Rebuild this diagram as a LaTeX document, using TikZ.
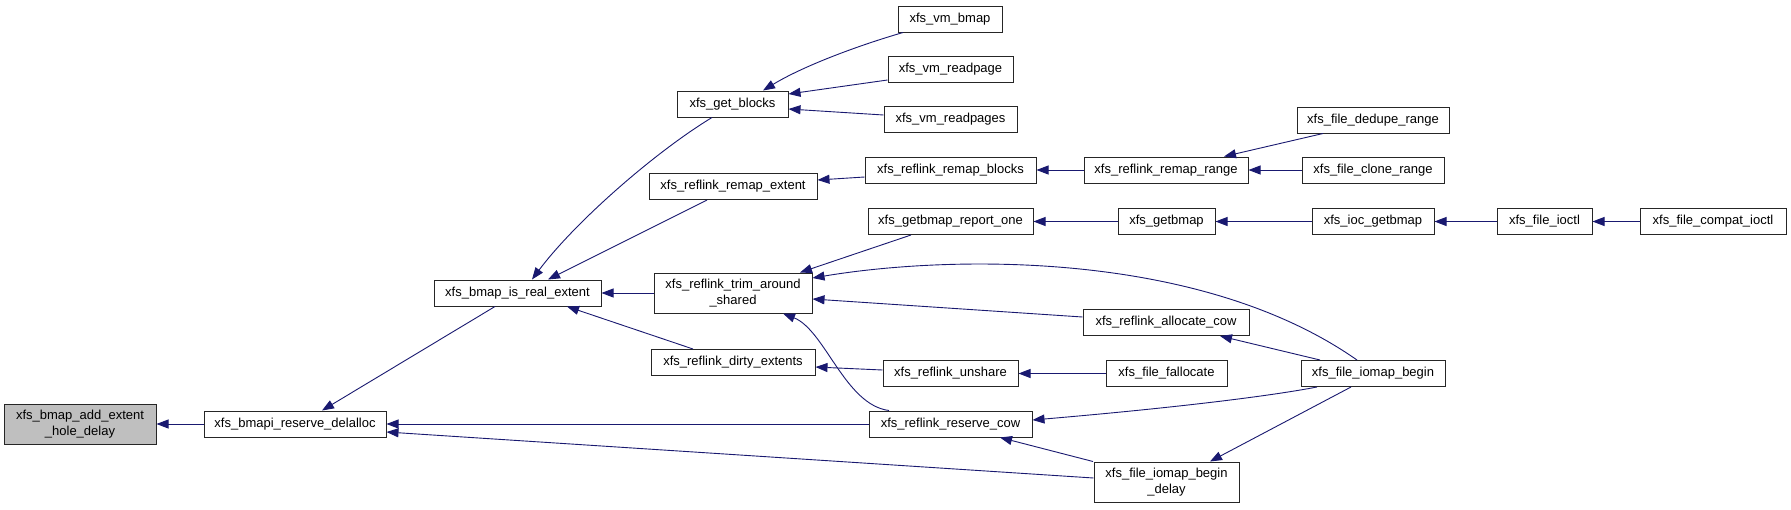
\documentclass[tikz,border=0pt]{standalone}
\usepackage{fontspec}
\setmainfont{Liberation Sans}
\usetikzlibrary{arrows.meta}
\definecolor{edgeblue}{HTML}{191970}
\definecolor{rootgray}{HTML}{BFBFBF}
\tikzset{
  fn/.style={draw=black!85, line width=1pt, rectangle, inner sep=0pt, minimum height=26pt,
    align=center, font=\fontsize{13}{15.5}\selectfont, fill=white},
  fn2/.style={fn, minimum height=40pt},
  edge/.style={draw=edgeblue, line width=0.9pt, {Triangle[length=12pt,width=9pt]}-},
}
\begin{document}
\begin{tikzpicture}[x=1pt,y=-1pt]
\useasboundingbox[fill=white] (0,0) rectangle (1791,509);
% nodes
\node[fn2, fill=rootgray, minimum width=152pt] (add) at (80,424) {xfs\_bmap\_add\_extent\\\_hole\_delay};
\node[fn, minimum width=182pt] (rd) at (295,424) {xfs\_bmapi\_reserve\_delalloc};
\node[fn, minimum width=167pt] (ire) at (517.5,293) {xfs\_bmap\_is\_real\_extent};
\node[fn, minimum width=111pt] (gb) at (732.5,104) {xfs\_get\_blocks};
\node[fn, minimum width=104pt] (vmb) at (950,19) {xfs\_vm\_bmap};
\node[fn, minimum width=125pt] (vrp) at (950.5,69.5) {xfs\_vm\_readpage};
\node[fn, minimum width=133pt] (vrps) at (950.5,119.5) {xfs\_vm\_readpages};
\node[fn, minimum width=168pt] (rext) at (733,186.5) {xfs\_reflink\_remap\_extent};
\node[fn, minimum width=171pt] (rblk) at (950.5,170) {xfs\_reflink\_remap\_blocks};
\node[fn, minimum width=164pt] (rrng) at (1166,170) {xfs\_reflink\_remap\_range};
\node[fn, minimum width=152pt] (dedup) at (1373,120) {xfs\_file\_dedupe\_range};
\node[fn, minimum width=142pt] (clone) at (1373,170) {xfs\_file\_clone\_range};
\node[fn, minimum width=165pt] (gro) at (950.5,221.5) {xfs\_getbmap\_report\_one};
\node[fn, minimum width=97pt] (gbm) at (1166.5,221.5) {xfs\_getbmap};
\node[fn, minimum width=122pt] (ioc) at (1373,221.5) {xfs\_ioc\_getbmap};
\node[fn, minimum width=95pt] (fioctl) at (1544.5,221.5) {xfs\_file\_ioctl};
\node[fn, minimum width=146pt] (compat) at (1713,221.5) {xfs\_file\_compat\_ioctl};
\node[fn2, minimum width=158pt] (trim) at (733,293) {xfs\_reflink\_trim\_around\\\_shared};
\node[fn, minimum width=164pt] (dirty) at (733,362.5) {xfs\_reflink\_dirty\_extents};
\node[fn, minimum width=166pt] (acow) at (1166,322.5) {xfs\_reflink\_allocate\_cow};
\node[fn, minimum width=135pt] (unsh) at (950.5,373.5) {xfs\_reflink\_unshare};
\node[fn, minimum width=121pt] (falloc) at (1166.5,373.5) {xfs\_file\_fallocate};
\node[fn, minimum width=144pt] (fib) at (1373,373.5) {xfs\_file\_iomap\_begin};
\node[fn, minimum width=163pt] (rcow) at (950.5,424) {xfs\_reflink\_reserve\_cow};
\node[fn2, minimum width=145pt] (delay) at (1166.5,482) {xfs\_file\_iomap\_begin\\\_delay};
% edges (arrow head at the callee on the left)
\draw[edge] (add.east) -- (rd.west);
\draw[edge] ([xshift=27pt]rd.north) -- ([xshift=-22.5pt]ire.south);
\draw[edge] (rd.east) -- (rcow.west);
\draw[edge] ([yshift=-8pt]rd.east) -- ([yshift=4pt]delay.west);
\draw[edge] ([xshift=14.5pt]ire.north) .. controls (575,222) and (655,152) .. ([xshift=-20.5pt]gb.south);
\draw[edge] ([xshift=30.5pt]ire.north) -- ([xshift=-26pt]rext.south);
\draw[edge] (ire.east) -- (trim.west);
\draw[edge] ([xshift=49.5pt]ire.south) -- ([xshift=-40pt]dirty.north);
\draw[edge] ([xshift=30.5pt]gb.north) .. controls (800,68) and (850,48) .. ([xshift=-47pt]vmb.south);
\draw[edge] ([yshift=10pt]gb.east) -- ([yshift=-10.5pt]vrp.west);
\draw[edge] ([yshift=-5pt]gb.east) -- ([yshift=4.5pt]vrps.west);
\draw[edge] ([yshift=6.5pt]rext.east) -- ([yshift=-7pt]rblk.west);
\draw[edge] (rblk.east) -- (rrng.west);
\draw[edge] ([xshift=58pt]rrng.north) -- ([xshift=-50pt]dedup.south);
\draw[edge] (rrng.east) -- (clone.west);
\draw[edge] (gro.east) -- (gbm.west);
\draw[edge] (gbm.east) -- (ioc.west);
\draw[edge] (ioc.east) -- (fioctl.west);
\draw[edge] (fioctl.east) -- (compat.west);
\draw[edge] ([xshift=67pt]trim.north) -- ([xshift=-39.5pt]gro.south);
\draw[edge] ([yshift=15pt]trim.east) .. controls (950,255) and (1200,250) .. ([xshift=-16pt]fib.north);
\draw[edge] ([yshift=-6pt]trim.east) -- ([yshift=5.5pt]acow.west);
\draw[edge] ([xshift=50pt]trim.south) .. controls (825,330) and (845,405) .. ([xshift=-61.5pt]rcow.north);
\draw[edge] ([yshift=-4.5pt]dirty.east) -- ([yshift=3.5pt]unsh.west);
\draw[edge] (unsh.east) -- (falloc.west);
\draw[edge] ([xshift=54pt]acow.south) -- ([xshift=-53pt]fib.north);
\draw[edge] ([yshift=4pt]rcow.east) .. controls (1150,410) and (1260,398) .. ([xshift=-56pt]fib.south);
\draw[edge] ([xshift=43.5pt]delay.north) -- ([xshift=-22pt]fib.south);
\draw[edge] ([xshift=49.5pt]rcow.south) -- ([xshift=-73.5pt]delay.north);
\end{tikzpicture}
\end{document}
